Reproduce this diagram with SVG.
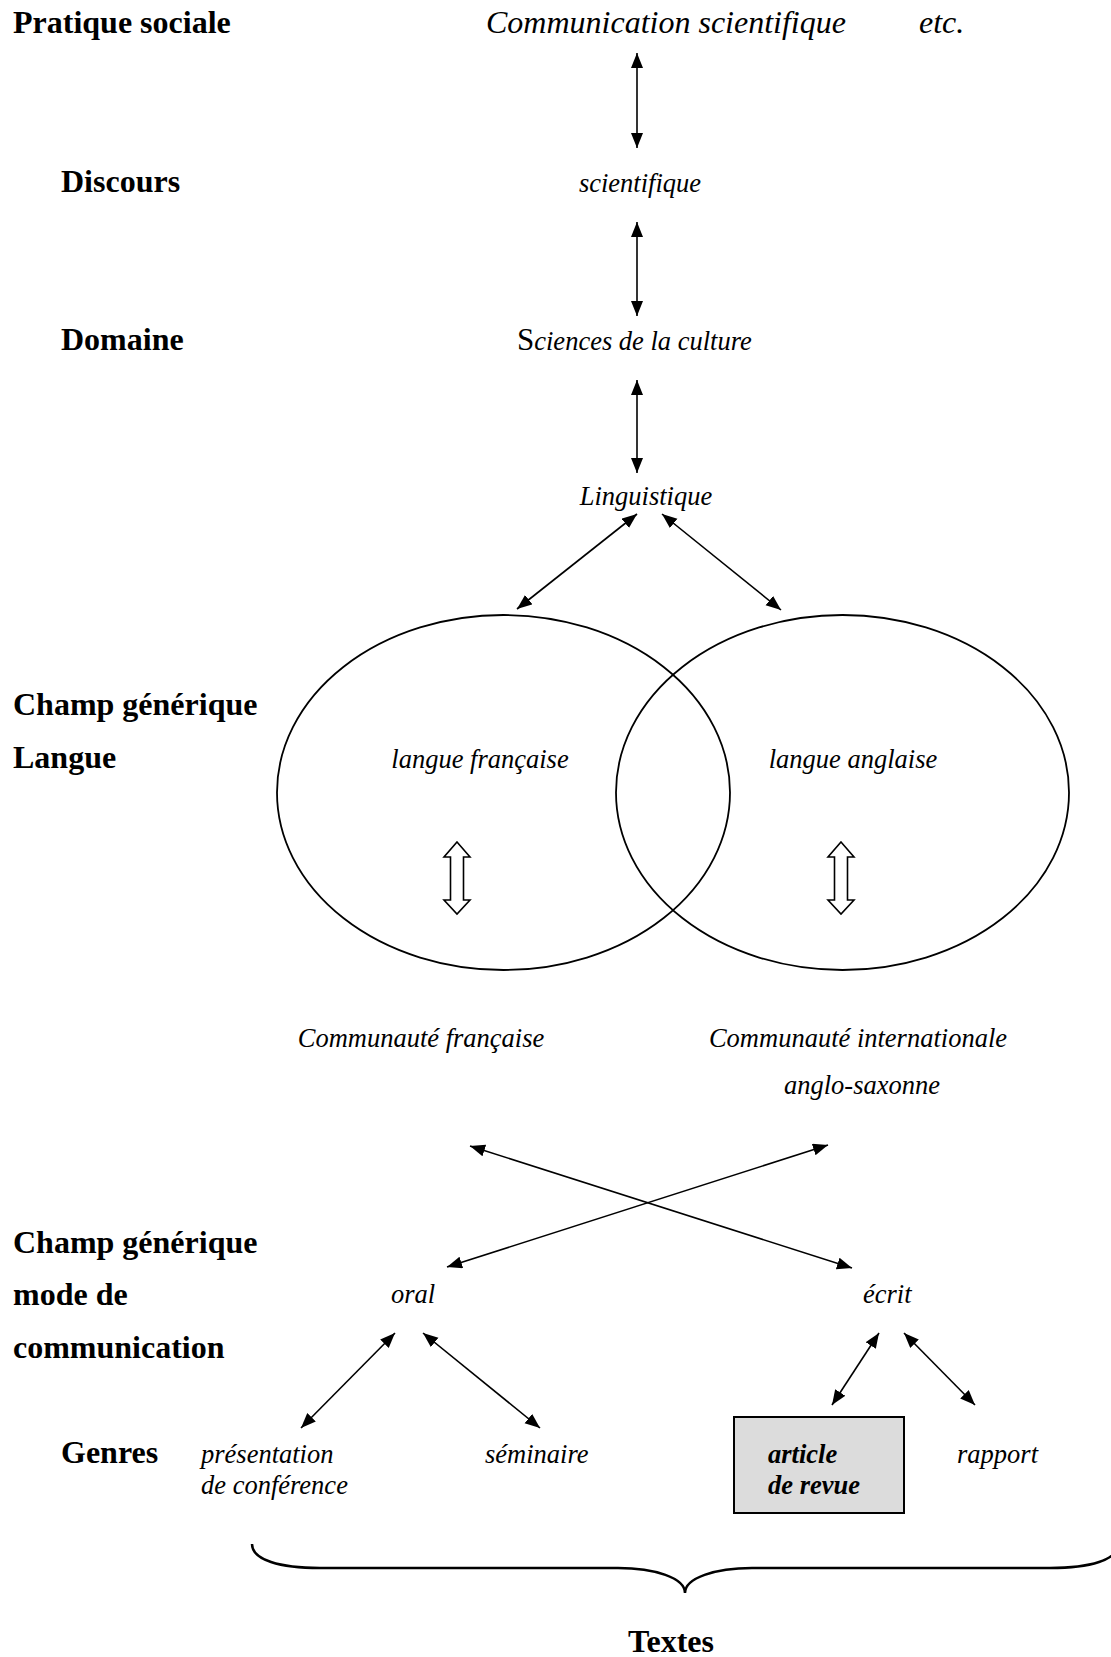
<svg xmlns="http://www.w3.org/2000/svg" width="1111" height="1657" viewBox="0 0 1111 1657">
<style>
text{font-family:"Liberation Serif","Times New Roman",serif;fill:#000}
.lbl{font-size:32px;font-weight:bold}
.it{font-size:26.5px;font-style:italic}
.big{font-size:32px;font-style:italic}
.con{stroke:#000;stroke-width:1.6;fill:none;marker-start:url(#ah);marker-end:url(#ah)}
.ell{fill:none;stroke:#000;stroke-width:1.8}
.hol{fill:#fff;stroke:#000;stroke-width:1.6;stroke-linejoin:miter}
</style>
<defs>
<marker id="ah" markerUnits="userSpaceOnUse" markerWidth="16" markerHeight="13" refX="15" refY="6" orient="auto-start-reverse">
<path d="M0,0 L15,6 L0,12 z" fill="#000"/>
</marker>
</defs>
<rect width="1111" height="1657" fill="#fff"/>
<g id="labels">
<text class="lbl" x="13" y="33">Pratique sociale</text>
<text class="lbl" x="61" y="192">Discours</text>
<text class="lbl" x="61" y="350">Domaine</text>
<text class="lbl" x="13" y="715">Champ générique</text>
<text class="lbl" x="13" y="768">Langue</text>
<text class="lbl" x="13" y="1253">Champ générique</text>
<text class="lbl" x="13" y="1305">mode de</text>
<text class="lbl" x="13" y="1358">communication</text>
<text class="lbl" x="61" y="1463">Genres</text>
<text class="lbl" x="671" y="1652" text-anchor="middle">Textes</text>
</g>
<g id="n-communication"><text class="big" x="486" y="33">Communication scientifique</text><text class="big" x="919" y="33">etc.</text></g>
<g id="n-scientifique"><text class="it" x="640" y="192" text-anchor="middle">scientifique</text></g>
<g id="n-sciences"><text x="517" y="350" style="font-size:26.5px;font-style:italic"><tspan style="font-style:normal;font-size:31px">S</tspan>ciences de la culture</text></g>
<g id="n-linguistique"><text class="it" x="646" y="505" text-anchor="middle">Linguistique</text></g>
<g id="n-francaise">
<ellipse class="ell" cx="503.5" cy="792.5" rx="226.5" ry="177.5"/>
<text class="it" x="480" y="768" text-anchor="middle">langue française</text>
<polygon class="hol" points="457,842 470,857 463.5,857 463.5,900 470,900 457,914 444,900 450.5,900 450.5,857 444,857"/>
</g>
<g id="n-anglaise">
<ellipse class="ell" cx="842.5" cy="792.5" rx="226.5" ry="177.5"/>
<text class="it" x="853" y="768" text-anchor="middle">langue anglaise</text>
<polygon class="hol" points="841,842 854,857 847.5,857 847.5,900 854,900 841,914 828,900 834.5,900 834.5,857 828,857"/>
</g>
<g id="n-comm-fr"><text class="it" x="421" y="1047" text-anchor="middle">Communauté française</text></g>
<g id="n-comm-int"><text class="it" x="858" y="1047" text-anchor="middle">Communauté internationale</text><text class="it" x="862" y="1094" text-anchor="middle">anglo-saxonne</text></g>
<g id="n-oral"><text class="it" x="391" y="1303">oral</text></g>
<g id="n-ecrit"><text class="it" x="863" y="1303">écrit</text></g>
<g id="n-presentation"><text class="it" x="201" y="1463">présentation</text><text class="it" x="201" y="1494">de conférence</text></g>
<g id="n-seminaire"><text class="it" x="485" y="1463">séminaire</text></g>
<g id="n-article">
<rect x="734" y="1417" width="170" height="96" fill="#dcdcdc" stroke="#000" stroke-width="2"/>
<text class="it" x="768" y="1463" font-weight="bold">article</text>
<text class="it" x="768" y="1494" font-weight="bold">de revue</text>
</g>
<g id="n-rapport"><text class="it" x="957" y="1463">rapport</text></g>
<g id="connectors">
<line class="con" x1="637" y1="53" x2="637" y2="148"/>
<line class="con" x1="637" y1="222" x2="637" y2="316"/>
<line class="con" x1="637" y1="380" x2="637" y2="473"/>
<line class="con" x1="637" y1="514" x2="517" y2="609"/>
<line class="con" x1="662" y1="514" x2="781" y2="610"/>
<line class="con" x1="470" y1="1146" x2="852" y2="1268"/>
<line class="con" x1="828" y1="1145" x2="447" y2="1267"/>
<line class="con" x1="395" y1="1333" x2="301" y2="1428"/>
<line class="con" x1="423" y1="1333" x2="540" y2="1428"/>
<line class="con" x1="879" y1="1333" x2="832" y2="1405"/>
<line class="con" x1="904" y1="1333" x2="975" y2="1405"/>
</g>
<g id="brace">
<path d="M252,1544 C252,1560 280,1568 320,1568 L618,1568 C655,1568 685,1578 685,1593 C685,1578 715,1568 752,1568 L1050,1568 C1090,1568 1118,1560 1118,1544" fill="none" stroke="#000" stroke-width="2.5"/>
</g>
</svg>
